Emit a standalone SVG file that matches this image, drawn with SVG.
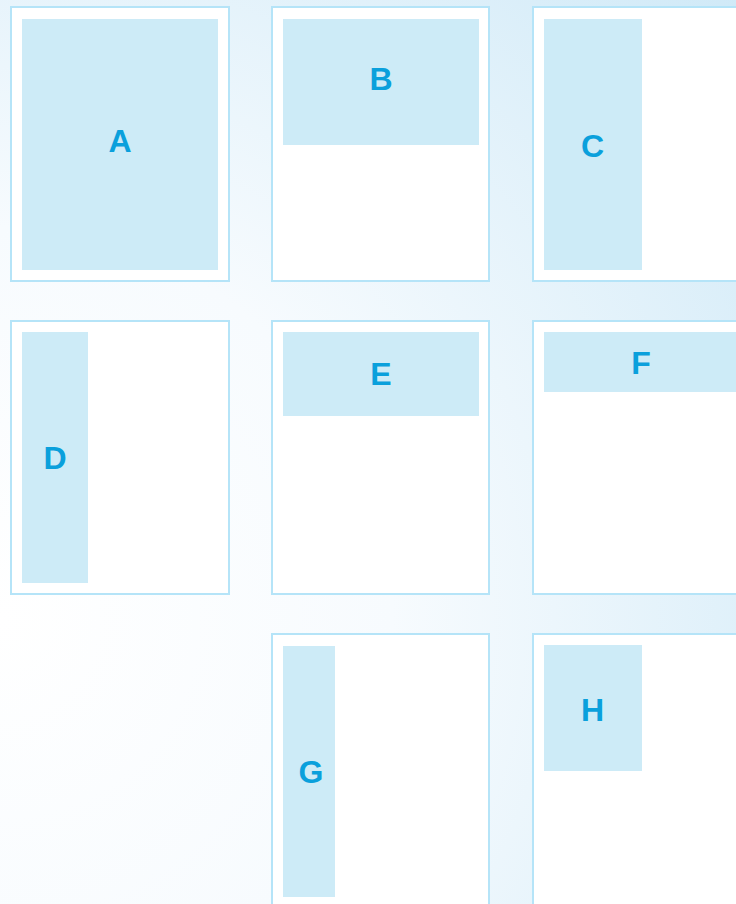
<svg xmlns="http://www.w3.org/2000/svg" width="736" height="904" viewBox="0 0 736 904">
<defs>
<radialGradient id="bg" gradientUnits="userSpaceOnUse" cx="0" cy="620" r="980">
<stop offset="0" stop-color="#ffffff"/>
<stop offset="0.4" stop-color="#f7fbfe"/>
<stop offset="1" stop-color="#cfe9f7"/>
</radialGradient>
<style>
.panel{fill:#ffffff;stroke:#b5e4f8;stroke-width:2}
.block{fill:#cdebf7}
.lbl{font-family:"Liberation Sans",Arial,sans-serif;font-weight:bold;font-size:32px;fill:#0aa0dc;text-anchor:middle}
</style>
</defs>
<rect x="0" y="0" width="736" height="904" fill="url(#bg)"/>
<g id="A"><rect class="panel" x="11" y="7" width="218" height="274"/><rect class="block" x="22" y="19" width="196" height="251"/><text class="lbl" x="120" y="151.5">A</text></g>
<g id="B"><rect class="panel" x="272" y="7" width="217" height="274"/><rect class="block" x="283" y="19" width="196" height="126"/><text class="lbl" x="381" y="90.2">B</text></g>
<g id="C"><rect class="panel" x="533" y="7" width="218" height="274"/><rect class="block" x="544" y="19" width="98" height="251"/><text class="lbl" x="592.5" y="156.5">C</text></g>
<g id="D"><rect class="panel" x="11" y="321" width="218" height="273"/><rect class="block" x="22" y="332" width="66" height="251"/><text class="lbl" x="55" y="469">D</text></g>
<g id="E"><rect class="panel" x="272" y="321" width="217" height="273"/><rect class="block" x="283" y="332" width="196" height="84"/><text class="lbl" x="381" y="384.5">E</text></g>
<g id="F"><rect class="panel" x="533" y="321" width="218" height="273"/><rect class="block" x="544" y="332" width="196" height="60"/><text class="lbl" x="641" y="374">F</text></g>
<g id="G"><rect class="panel" x="272" y="634" width="217" height="290"/><rect class="block" x="283" y="646" width="52" height="251"/><text class="lbl" x="311" y="782.8">G</text></g>
<g id="H"><rect class="panel" x="533" y="634" width="218" height="290"/><rect class="block" x="544" y="645" width="98" height="126"/><text class="lbl" x="592.5" y="721.2">H</text></g>
<g id="connectors"></g>
</svg>
